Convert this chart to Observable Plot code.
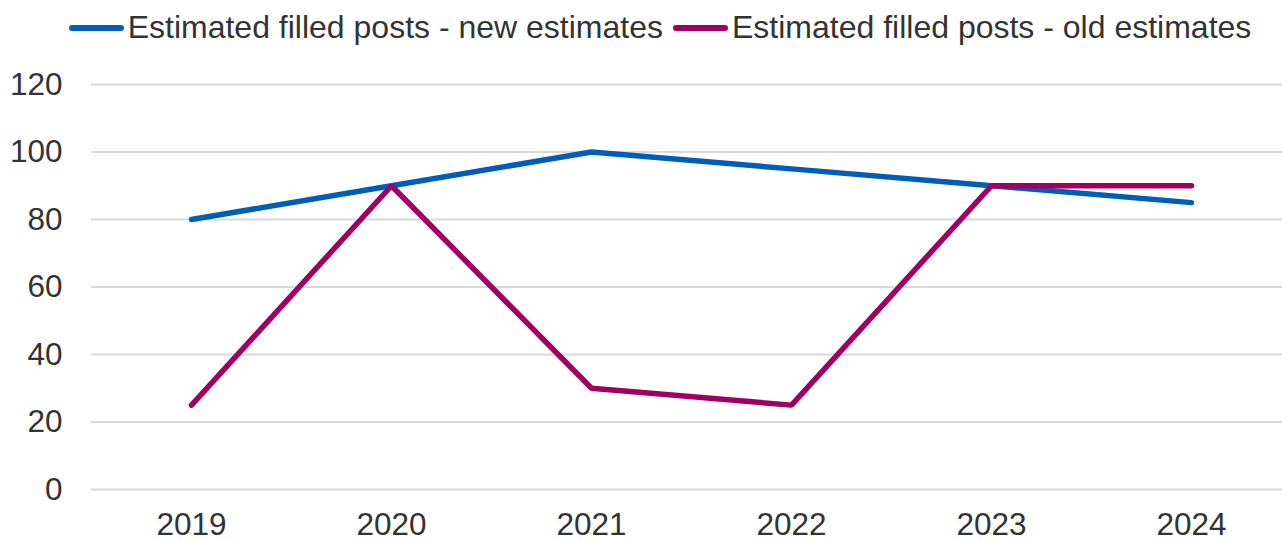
<!DOCTYPE html>
<html>
<head>
<meta charset="utf-8">
<script src="https://cdn.jsdelivr.net/npm/d3@7"></script>
<script src="https://cdn.jsdelivr.net/npm/@observablehq/plot@0.6"></script>
<style>
  html, body { margin: 0; padding: 0; background: #fff; }
  body { width: 1282px; height: 541px; overflow: hidden; font-family: "Liberation Sans", Arial, sans-serif; }
  #legend { height: 55px; display: flex; align-items: center; justify-content: center; padding-left: 38px; box-sizing: border-box; color: #333; font-size: 32px; gap: 10px; }
  .item { display: flex; align-items: center; }
  .sw { width: 55px; height: 6px; border-radius: 3px; margin-right: 4px; }
  svg { display: block; }
</style>
</head>
<body>
<div id="legend"></div>
<div id="chart"></div>
<script>
const years = ["2019", "2020", "2021", "2022", "2023", "2024"];
const newEstimates = [80, 90, 100, 95, 90, 85];
const oldEstimates = [25, 90, 30, 25, 90, 90];
const seriesNames = ["Estimated filled posts - new estimates", "Estimated filled posts - old estimates"];
const seriesColors = ["#005EB8", "#A00064"];
const yTicks = [0, 20, 40, 60, 80, 100, 120];

const data = [];
years.forEach((y, i) => {
  data.push({year: y, value: newEstimates[i], series: seriesNames[0]});
  data.push({year: y, value: oldEstimates[i], series: seriesNames[1]});
});

const legend = document.getElementById("legend");
seriesNames.forEach((n, i) => {
  const it = document.createElement("div");
  it.className = "item";
  it.innerHTML = `<span class="sw" style="background:${seriesColors[i]}"></span><span>${n}</span>`;
  legend.appendChild(it);
});

const chart = Plot.plot({
  width: 1282,
  height: 486,
  marginTop: 29,
  marginBottom: 52,
  marginLeft: 91,
  marginRight: -9,
  style: {fontFamily: "'Liberation Sans', Arial, sans-serif", fontSize: "31.5px", color: "#333", background: "#fff"},
  x: {type: "band", domain: years, padding: 0, label: null},
  y: {domain: [0, 120], label: null},
  color: {domain: seriesNames, range: seriesColors},
  marks: [
    Plot.ruleY(yTicks, {stroke: "#d9d9d9", strokeWidth: 2}),
    Plot.axisY({ticks: yTicks, tickSize: 0, tickPadding: 29, label: null, fill: "#333"}),
    Plot.axisX({tickSize: 0, tickPadding: 23, label: null, fill: "#333"}),
    Plot.line(data, {x: "year", y: "value", z: "series", stroke: "series", strokeWidth: 5.5, strokeLinecap: "round", strokeLinejoin: "miter"})
  ]
});
document.getElementById("chart").appendChild(chart);
</script>
</body>
</html>
